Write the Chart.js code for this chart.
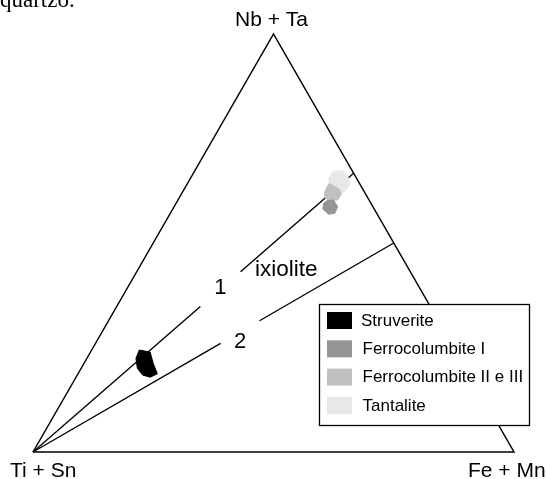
<!DOCTYPE html>
<html>
<head>
<meta charset="utf-8">
<script src="https://cdn.jsdelivr.net/npm/chart.js@4.4.0/dist/chart.umd.min.js"></script>
<style>
  html, body { margin: 0; padding: 0; background: #fff; overflow: hidden; }
</style>
</head>
<body>
<canvas id="ternary" width="546" height="479"></canvas>
<script>
// ternary points as [Nb+Ta %, Fe+Mn %]; Ti+Sn is the remainder
const apexLabels = ['Ti + Sn', 'Fe + Mn', 'Nb + Ta'];
const outline = [[0, 0], [0, 100], [100, 0], [0, 0]];

// reference lines from the Ti+Sn corner (broken where the numbers sit)
const line1Low = [[0, 0], [34.8, 17.4]];
const line1High = [[43.1, 21.6], [66.7, 33.3]];
const line2Low = [[0, 0], [26.0, 26.0]];
const line2High = [[31.4, 31.4], [50.0, 50.0]];

// composition fields (polygon outlines)
const struverite = [[24.4, 9.9], [23.9, 12.4], [21.2, 14.4], [18.7, 16.5], [17.9, 15.4], [18.4, 13.6], [20.0, 11.7], [22.4, 10.2]];
const ferrocolumbiteI = [[60.1, 31.0], [60.3, 32.3], [58.7, 34.0], [57.1, 34.2], [56.9, 33.0], [58.1, 31.2], [59.5, 30.7]];
const ferrocolumbiteII = [[64.3, 29.5], [62.8, 32.3], [61.7, 33.3], [60.3, 33.2], [60.1, 31.6], [60.7, 30.4], [62.0, 29.6], [63.5, 29.4]];
const tantalite = [[67.2, 28.8], [67.3, 30.8], [66.0, 32.4], [64.3, 33.8], [62.8, 33.7], [61.9, 33.3], [62.7, 32.2], [64.1, 29.6], [65.5, 28.7]];

const fieldNames = ['Struverite', 'Ferrocolumbite I', 'Ferrocolumbite II e III', 'Tantalite'];
const fieldColors = ['#000000', '#959595', '#c0c0c0', '#e8e8e8'];

const H = Math.sqrt(3) / 2;
const toXY = p => ({ x: p[1] / 100 + p[0] / 200, y: p[0] / 100 * H });
const closed = pts => pts.concat([pts[0]]).map(toXY);

function field(i, pts) {
  return {
    label: fieldNames[i],
    data: closed(pts),
    showLine: true,
    fill: 'shape',
    backgroundColor: fieldColors[i],
    borderColor: fieldColors[i],
    borderWidth: 1,
    pointRadius: 0,
    clip: false
  };
}
function line(pts, w) {
  return {
    data: pts.map(toXY),
    showLine: true,
    fill: false,
    borderColor: '#000',
    borderWidth: w,
    pointRadius: 0,
    clip: false
  };
}

const FONT = '"Liberation Sans", Arial, sans-serif';

const labelsPlugin = {
  id: 'ternaryLabels',
  afterDatasetsDraw(chart) {
    // legend box
    const ctx = chart.ctx;
    ctx.save();
    ctx.fillStyle = '#fff';
    ctx.fillRect(319, 304, 211, 122);
    ctx.strokeStyle = '#000';
    ctx.lineWidth = 1.3;
    ctx.strokeRect(319.5, 304.5, 210, 121);
    ctx.font = '17px ' + FONT;
    ctx.textBaseline = 'middle';
    fieldNames.forEach((name, i) => {
      const y = 312 + i * 28.3;
      ctx.fillStyle = fieldColors[i];
      ctx.fillRect(327, y, 25, 17);
      ctx.fillStyle = '#000';
      ctx.fillText(name, i === 0 ? 361 : 362.5, y + 9);
    });
    ctx.restore();
  },
  afterDraw(chart) {
    const ctx = chart.ctx;
    const xs = chart.scales.x, ys = chart.scales.y;
    const px = p => { const q = toXY(p); return { x: xs.getPixelForValue(q.x), y: ys.getPixelForValue(q.y) }; };
    const ti = px(outline[0]), fe = px(outline[1]), nb = px(outline[2]);
    ctx.save();
    ctx.fillStyle = '#000';
    ctx.textBaseline = 'alphabetic';
    ctx.font = '21px ' + FONT;
    ctx.textAlign = 'left';
    ctx.fillText(apexLabels[0], ti.x - 23, ti.y + 25);
    ctx.fillText(apexLabels[1], fe.x - 46, fe.y + 25);
    ctx.textAlign = 'center';
    ctx.fillText(apexLabels[2], nb.x - 2, nb.y - 8);

    // line numbers in the gaps
    ctx.font = '22px ' + FONT;
    const a1 = px(line1Low[1]), b1 = px(line1High[0]);
    ctx.fillText('1', (a1.x + b1.x) / 2, (a1.y + b1.y) / 2 + 5);
    const a2 = px(line2Low[1]), b2 = px(line2High[0]);
    ctx.fillText('2', (a2.x + b2.x) / 2, (a2.y + b2.y) / 2 + 16);

    ctx.font = '22.5px ' + FONT;
    ctx.textAlign = 'left';
    ctx.fillText('ixiolite', b1.x + 14.5, b1.y + 4.5);

    // cut-off text from the page above
    ctx.font = '23px "Liberation Serif", "Times New Roman", serif';
    ctx.fillText('quartzo.', 0, 7);
    ctx.restore();
  }
};

new Chart(document.getElementById('ternary'), {
  type: 'scatter',
  data: {
    datasets: [
      field(0, struverite),
      field(1, ferrocolumbiteI),
      field(2, ferrocolumbiteII),
      field(3, tantalite),
      line(line1Low, 1.4),
      line(line1High, 1.4),
      line(line2Low, 1.4),
      line(line2High, 1.4),
      line(outline, 1.5)
    ]
  },
  options: {
    responsive: false,
    animation: false,
    layout: { padding: { left: 33, right: 32, top: 34, bottom: 27 } },
    scales: {
      x: { type: 'linear', min: 0, max: 1, display: false },
      y: { type: 'linear', min: 0, max: H, display: false }
    },
    plugins: {
      legend: { display: false },
      tooltip: { enabled: false }
    }
  },
  plugins: [labelsPlugin]
});
</script>
</body>
</html>
